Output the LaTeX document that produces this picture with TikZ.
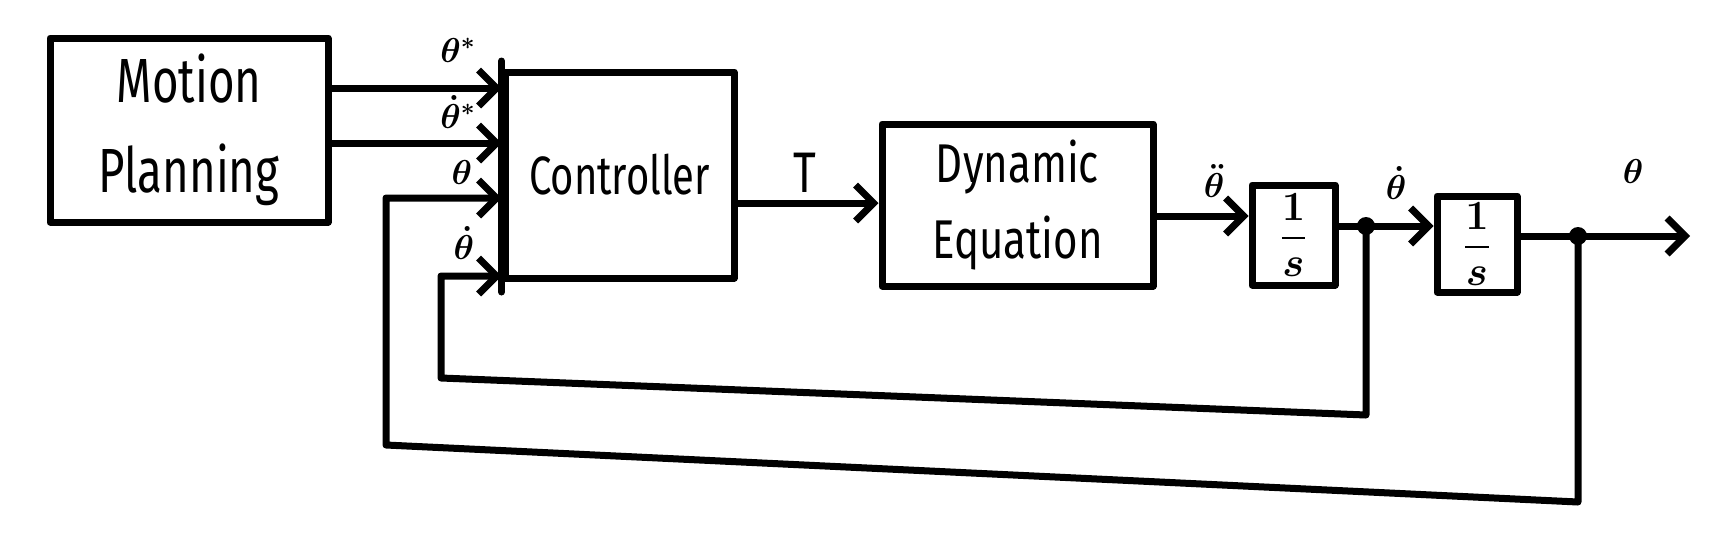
\documentclass[tikz,border=0pt]{standalone}
\usepackage{amsmath}
\usepackage{fontspec}
\setmainfont{Fira Sans}
\usetikzlibrary{arrows.meta}
\begin{document}
\begin{tikzpicture}[x=0.5pt,y=-0.5pt,
  line/.style={line width=3.5pt, line cap=round, line join=round},
  blk/.style={draw, line width=3.5pt, rectangle, inner sep=0pt, line join=round},
  arr/.style={line, -{Straight Barb[length=9pt,width=18pt]}},
  lbl/.style={inner sep=0pt, font=\fontsize{18}{20}\selectfont},
  dot/.style={circle, fill, inner sep=0pt, minimum size=9pt},
  btxt/.style={font=\fontsize{24}{45}\selectfont, align=center}]
\useasboundingbox (0,0) rectangle (1730,548);
% blocks
\node[blk, btxt, minimum width=139pt, minimum height=92pt] (mp) at (189,130)
  {\scalebox{0.95}[1.3]{Motion}\\\scalebox{0.95}[1.3]{Planning}};
\node[blk, minimum width=114.5pt, minimum height=103pt, font=\fontsize{20}{24}\selectfont] (ctrl) at (619.5,175)
  {\scalebox{1}[1.35]{Controller}};
\node[blk, btxt, font=\fontsize{21}{38}\selectfont, minimum width=135.5pt, minimum height=81pt] (dyn) at (1017.5,205)
  {\scalebox{1}[1.3]{Dynamic}\\\scalebox{1}[1.3]{Equation}};
\node[blk, minimum width=41.5pt, minimum height=50pt, font=\fontsize{22}{26}\selectfont] (s1) at (1293.5,235)
  {$\displaystyle\frac{\boldsymbol{1}}{\boldsymbol{s}}$};
\node[blk, minimum width=40pt, minimum height=48pt, font=\fontsize{22}{26}\selectfont] (s2) at (1477,244)
  {$\displaystyle\frac{\boldsymbol{1}}{\boldsymbol{s}}$};
% extended input bar of the controller
\coordinate (bartop) at (505,61);
\coordinate (barbot) at (505,292);
\draw[line] (ctrl.west |- bartop) -- (ctrl.west |- barbot);
% rows
\coordinate (r1) at (0,88);
\coordinate (r2) at (0,143);
\coordinate (r3) at (0,198);
\coordinate (r4) at (0,276);
\coordinate (rT) at (0,203);
\coordinate (rA) at (0,216);
\coordinate (rB) at (0,226);
\coordinate (rC) at (0,236);
% junctions
\node[dot] (j1) at (1366,226) {};
\node[dot] (j2) at (1578,236) {};
\coordinate (out) at (1690,236);
% forward connectors
\draw[arr] (mp.east |- r1) -- (ctrl.west |- r1);
\draw[arr] (mp.east |- r2) -- (ctrl.west |- r2);
\draw[arr] (ctrl.east |- rT) -- (dyn.west |- rT);
\draw[arr] (dyn.east |- rA) -- (s1.west |- rA);
\draw[line] (s1.east |- rB) -- (j1.center);
\draw[arr] (j1.center) -- (s2.west |- rB);
\draw[line] (s2.east |- rC) -- (j2.center);
\draw[arr] (j2.center) -- (out);
% feedback loops
\coordinate (b1r) at (1366,415);
\coordinate (b1l) at (441,378);
\draw[arr] (j1.center) -- (b1r) -- (b1l) -- (b1l |- r4) -- (ctrl.west |- r4);
\coordinate (b2r) at (1578,502);
\coordinate (b2l) at (386,445);
\draw[arr] (j2.center) -- (b2r) -- (b2l) -- (b2l |- r3) -- (ctrl.west |- r3);
% labels
\node[lbl] (lts) at (458,50) {$\boldsymbol{\theta^{*}}$};
\node[lbl] (ltds) at (458,112) {$\boldsymbol{\dot\theta^{*}}$};
\node[lbl] (lt) at (462,172) {$\boldsymbol{\theta}$};
\node[lbl] (ltd) at (464,243) {$\boldsymbol{\dot\theta}$};
\node[inner sep=0pt, font=\fontsize{22}{26}\selectfont] (lT) at (805,173) {\scalebox{1}[1.3]{T}};
\node[lbl] (ltdd) at (1214,181) {$\boldsymbol{\ddot\theta}$};
\node[lbl] (ltd2) at (1396,183) {$\boldsymbol{\dot\theta}$};
\node[lbl] (lth) at (1633,171) {$\boldsymbol{\theta}$};
\end{tikzpicture}
\end{document}
